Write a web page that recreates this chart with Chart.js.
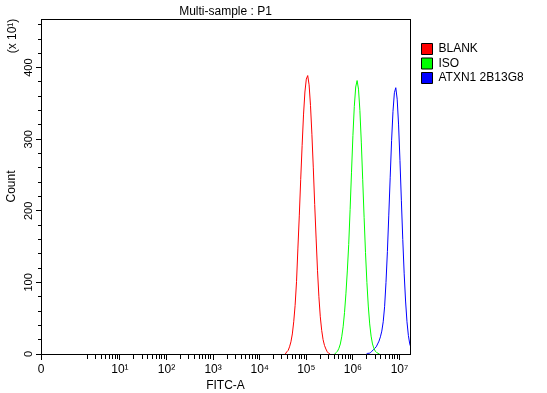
<!DOCTYPE html>
<html><head><meta charset="utf-8">
<script src="https://cdn.jsdelivr.net/npm/chart.js@4/dist/chart.umd.min.js"></script>
<style>html,body{margin:0;padding:0;background:#fff;}canvas{display:block;}</style>
</head><body>
<canvas id="c" width="547" height="393"></canvas>
<script>
// ---- data (counts in units of x10^1, positions in log10 decades) ----
const seriesNames = ['BLANK', 'ISO', 'ATXN1 2B13G8'];
const seriesColors = ['#ff0000', '#00ff00', '#0000ff'];

const blankPos = [4.55,4.58,4.61,4.64,4.67,4.70,4.73,4.76,4.79,4.82,4.85,4.88,4.91,4.94,4.97,5.00,5.03,5.06,5.09,5.12,5.15,5.18,5.21,5.24,5.27,5.30,5.33,5.36,5.39,5.42,5.45,5.48,5.51];
const blankCount = [0,3,5,10,17,28,45,68,101,148,194,244,291,334,366,384,389,376,347,307,260,209,162,117,80,52,33,20,12,7,3,1,0];

const isoPos = [5.61,5.64,5.67,5.70,5.73,5.76,5.79,5.82,5.85,5.88,5.91,5.94,5.97,6.00,6.03,6.06,6.09,6.12,6.15,6.18,6.21,6.24,6.27,6.30,6.33,6.36,6.39,6.42,6.45,6.48,6.51,6.54,6.57];
const isoCount = [0,2,4,8,14,24,38,58,84,116,153,202,254,305,346,373,382,370,340,296,244,191,142,100,67,42,25,14,8,4,2,1,0];

const atxnPos = [6.29,6.32,6.35,6.38,6.41,6.44,6.47,6.50,6.53,6.56,6.59,6.62,6.65,6.68,6.71,6.74,6.77,6.80,6.83,6.86,6.89,6.92,6.95,6.98,7.01,7.04,7.07,7.10,7.13,7.16,7.19,7.22,7.25];
const atxnCount = [0,1,1,2,4,6,8,10,14,18,24,32,45,66,100,143,194,247,298,339,365,372,356,320,270,214,160,112,74,45,26,14,8];

// ---- axes ----
const xAxisMin = -0.693;   // position of "0"
const xAxisMax = 7.225;
const xMajorTicks = [-0.693, 1, 2, 3, 4, 5, 6, 7];
const xTickLabels = ['0', '10\u00B9', '10\u00B2', '10\u00B3', '10\u2074', '10\u2075', '10\u2076', '10\u2077'];
const xMinorMultipliers = [2, 3, 4, 5, 6, 7, 8, 9];
const xMinorDecades = [0, 1, 2, 3, 4, 5, 6];

const yAxisMax = 468;
const yMajorTicks = [0, 100, 200, 300, 400];
const yTickLabels = ['0', '100', '200', '300', '400'];
const yMinorTicks = [20,40,60,80,120,140,160,180,220,240,260,280,320,340,360,380,420,440,460];

const FONT = "'Liberation Sans', Arial, 'DejaVu Sans', sans-serif";
Chart.defaults.font.family = FONT;
Chart.defaults.color = '#000';

const near = (a, b) => Math.abs(a - b) < 1e-6;
const toPoints = (pos, cnt) => pos.map((p, i) => ({x: p, y: cnt[i]}));

const xMinorTicks = [];
xMinorDecades.forEach(d => xMinorMultipliers.forEach(k => xMinorTicks.push(d + Math.log10(k))));
const xAllTicks = xMajorTicks.concat(xMinorTicks).filter(v => v <= xAxisMax).sort((a, b) => a - b);
const yAllTicks = yMajorTicks.concat(yMinorTicks).sort((a, b) => a - b);

const extraText = {
  id: 'extraText',
  afterDraw(chart) {
    const {ctx, chartArea} = chart;
    ctx.save();
    ctx.font = '12px ' + FONT;
    ctx.fillStyle = '#000';
    ctx.translate(12.5, chartArea.top + 17);
    ctx.rotate(-Math.PI / 2);
    ctx.textAlign = 'center';
    ctx.textBaseline = 'middle';
    ctx.fillText('(x 10\u00B9)', 0, 0);
    ctx.restore();
  }
};

const mkSet = (i, pos, cnt) => ({
  label: seriesNames[i], data: toPoints(pos, cnt),
  borderColor: seriesColors[i], backgroundColor: seriesColors[i],
  borderWidth: 1, pointRadius: 0, tension: 0, fill: false, clip: 0
});

new Chart(document.getElementById('c'), {
  type: 'line',
  data: {datasets: [mkSet(0, blankPos, blankCount), mkSet(1, isoPos, isoCount), mkSet(2, atxnPos, atxnCount)]},
  plugins: [extraText],
  options: {
    responsive: false, animation: false, events: [],
    layout: {padding: {left: 0, right: 24, top: 0, bottom: 0}},
    plugins: {
      title: {display: true, text: 'Multi-sample : P1', fullSize: false,
        font: {size: 12, weight: 'normal'}, color: '#000', padding: {top: 4, bottom: 0.6}},
      legend: {display: true, position: 'right', align: 'start', maxWidth: 104,
        title: {display: true, text: ' ', font: {size: 12}, padding: {top: 26.1, bottom: 0}},
        labels: {boxWidth: 11, boxHeight: 11, padding: 2.5, font: {size: 12}, color: '#000',
          generateLabels: chart => Chart.defaults.plugins.legend.labels.generateLabels(chart)
            .map(l => Object.assign(l, {strokeStyle: '#000', lineWidth: 1}))}},
      tooltip: {enabled: false}
    },
    scales: {
      x: {type: 'linear', position: 'bottom', min: xAxisMin, max: xAxisMax, z: 1,
        afterFit: s => { s.height = 39; },
        afterBuildTicks: s => { s.ticks = xAllTicks.map(v => ({value: v})); },
        ticks: {autoSkip: false, maxRotation: 0, minRotation: 0, padding: 2, font: {size: 12}, color: '#000',
          callback: v => { const i = xMajorTicks.findIndex(m => near(m, v)); return i >= 0 ? xTickLabels[i] : ''; }},
        grid: {display: true, drawOnChartArea: false, drawTicks: true, tickLength: 6, tickColor: '#000', tickWidth: 1,
          tickBorderDash: c => (c.tick && xMajorTicks.some(m => near(m, c.tick.value))) ? [] : [4, 20]},
        border: {display: true, color: '#000', width: 1},
        title: {display: true, text: 'FITC-A', font: {size: 12}, color: '#000', padding: 0}
      },
      y: {type: 'linear', position: 'left', min: 0, max: yAxisMax,
        afterFit: s => { s.width = 41; },
        afterBuildTicks: s => { s.ticks = yAllTicks.map(v => ({value: v})); },
        ticks: {autoSkip: false, minRotation: 90, maxRotation: 90, crossAlign: 'center', padding: -2,
          font: {size: 11}, color: '#000',
          callback: v => { const i = yMajorTicks.indexOf(v); return i >= 0 ? yTickLabels[i] : ''; }},
        grid: {display: true, drawOnChartArea: false, drawTicks: true, tickLength: 5, tickColor: '#000', tickWidth: 1,
          tickBorderDash: c => (c.tick && yMajorTicks.includes(c.tick.value)) ? [] : [0, 2, 3, 20]},
        border: {display: true, color: '#000', width: 1},
        title: {display: true, text: 'Count', font: {size: 12}, color: '#000', padding: {top: 4, bottom: 4}}
      },
      x2: {type: 'linear', position: 'top', display: true,
        afterFit: s => { s.height = 0; },
        ticks: {display: false}, grid: {display: false, drawTicks: false},
        border: {display: true, color: '#000', width: 1}},
      y2: {type: 'linear', position: 'right', display: true,
        afterFit: s => { s.width = 9; },
        ticks: {display: false}, grid: {display: false, drawTicks: false},
        border: {display: true, color: '#000', width: 1}}
    }
  }
});
</script>
</body></html>
